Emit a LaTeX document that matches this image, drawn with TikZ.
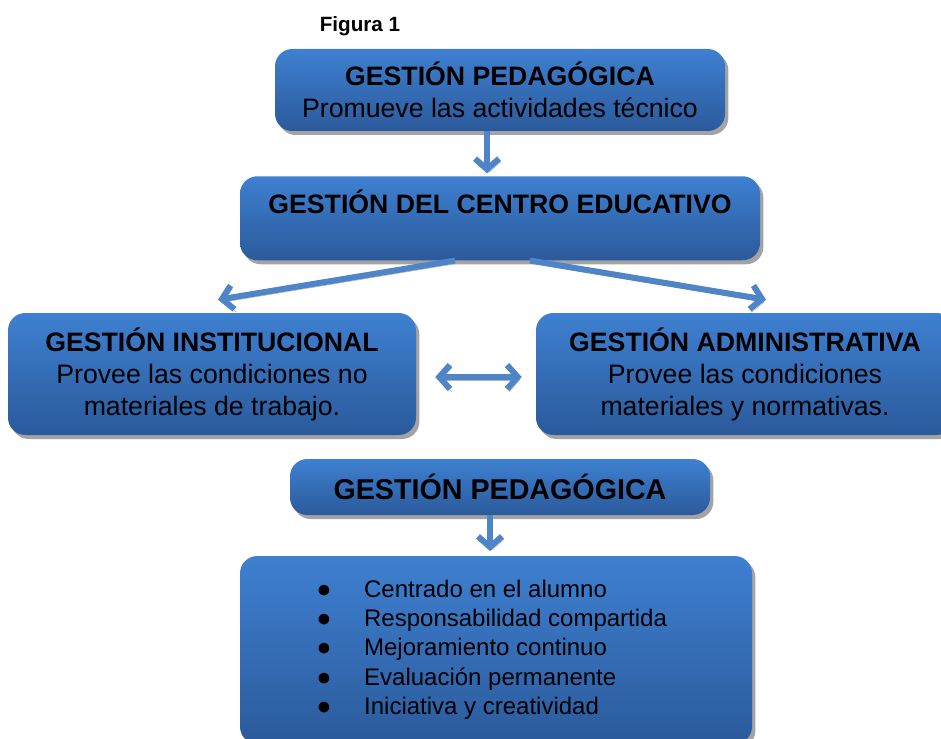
\documentclass[tikz,border=0pt]{standalone}
\usepackage{fontspec}
\setmainfont{Liberation Sans}
\usetikzlibrary{positioning,shadows,arrows.meta}
\definecolor{boxtop}{HTML}{3E80D1}
\definecolor{boxbottom}{HTML}{2B5A9B}
\definecolor{linkblue}{HTML}{4F85C8}
\newcommand{\bigdot}{{\fontsize{20}{20}\selectfont$\bullet$}}

\begin{document}
\begin{tikzpicture}[x=0.75pt,y=-0.75pt,
    box/.style={rounded corners=13pt,top color=boxtop,bottom color=boxbottom,draw=none,align=center,inner sep=0pt,
      drop shadow={shadow xshift=2.5pt,shadow yshift=-3pt,fill=black!40,opacity=.9},font=\fontsize{20}{24}\selectfont},
    link/.style={line width=4.5pt,draw=linkblue,line join=miter,
      preaction={draw=black!30,transform canvas={xshift=1.5pt,yshift=-2.25pt}}},
    tip/.tip={Straight Barb[length=8pt,width=18pt]}]
    \useasboundingbox (0,0) rectangle (941,738);
    \node (fig) at (360,26) [font=\bfseries\fontsize{15.5}{18}\selectfont] {Figura 1};
    \node (ped) at (500,90) [box,minimum width=337.5pt,minimum height=61.5pt] {\textbf{GESTIÓN PEDAGÓGICA}\\Promueve las actividades técnico};
    \node (centro) at (500,176) [box,anchor=north,minimum width=390pt,text height=28pt,text depth=35pt] {\textbf{GESTIÓN DEL CENTRO EDUCATIVO}};
    \node (inst) at (212,374) [box,minimum width=306pt,minimum height=91.5pt] {\textbf{GESTIÓN INSTITUCIONAL}\\Provee las condiciones no\\materiales de trabajo.};
    \node (adm) at (745,374) [box,minimum width=313.5pt,minimum height=91.5pt] {\textbf{GESTIÓN ADMINISTRATIVA}\\Provee las condiciones\\materiales y normativas.};
    \node (ped2) at (500,487) [box,minimum width=315pt,minimum height=42pt,font=\bfseries\fontsize{21.5}{26}\selectfont] {GESTIÓN PEDAGÓGICA};
    \node (lista) at (496,650) [box,minimum width=384pt,minimum height=141pt,font=\fontsize{18}{21.9}\selectfont] {%
      \begin{tabular}{@{}l@{\hspace{25pt}}l@{}}
        \bigdot & Centrado en el alumno\\
        \bigdot & Responsabilidad compartida\\
        \bigdot & Mejoramiento continuo\\
        \bigdot & Evaluación permanente\\
        \bigdot & Iniciativa y creatividad
      \end{tabular}\hspace{6pt}};
    \draw [link,-tip] ([xshift=-9.75pt]ped.south) -- ([xshift=-9.75pt,yshift=2pt]centro.north);
    \draw [link,-tip] ([xshift=-33.75pt]centro.south) -- ([xshift=4.5pt,yshift=9.75pt]inst.north);
    \draw [link,-tip] ([xshift=22.5pt]centro.south) -- ([xshift=15.75pt,yshift=9.75pt]adm.north);
    \draw [link,tip-tip] ([xshift=14.25pt,yshift=-2.25pt]inst.east) -- ([xshift=-10.5pt,yshift=-2.25pt]adm.west);
    \draw [link,-tip] ([xshift=-7.5pt]ped2.south) -- ([xshift=-4.5pt,yshift=3.5pt]lista.north);
\end{tikzpicture}
\end{document}
